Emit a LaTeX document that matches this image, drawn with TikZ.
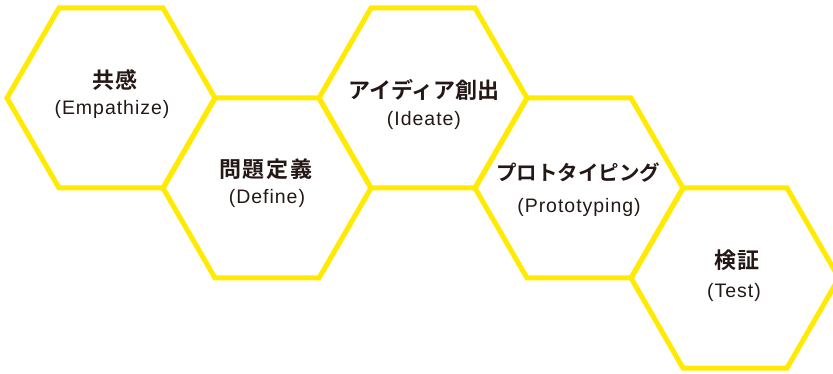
\documentclass[tikz,border=0pt]{standalone}
\usepackage{fontspec}
\setmainfont{Liberation Sans}
\newfontfamily\jpfont{Noto Sans CJK JP}[BoldFont={* Bold}]
\definecolor{hexyellow}{RGB}{255,234,0}
\definecolor{ink}{RGB}{35,24,21}
\tikzset{
  hexline/.style={draw=hexyellow, line width=5pt, line join=miter},
  title/.style={inner sep=0pt, text=ink, font=\jpfont\bfseries\fontsize{22}{22}\selectfont},
  narrowtitle/.style={inner sep=0pt, text=ink, font=\jpfont\bfseries\fontsize{20.5}{20.5}\selectfont},
  kanji/.style={title, font=\jpfont\bfseries\fontsize{22}{22}\selectfont\addfontfeature{LetterSpace=9}},
  sub/.style={inner sep=0pt, text=ink, font=\fontsize{19.5}{19.5}\selectfont\addfontfeature{LetterSpace=5}}
}
\newcommand{\hexat}[2]{%
  \draw[hexline] (#1+104,#2) -- (#1+52,#2+90) -- (#1-52,#2+90) -- (#1-104,#2)
    -- (#1-52,#2-90) -- (#1+52,#2-90) -- cycle;}
\begin{document}
\begin{tikzpicture}[x=1pt, y=-1pt]
\useasboundingbox (0,0) rectangle (833,374);
\clip (0,0) rectangle (833,374);
\hexat{111}{98}
\hexat{267}{188}
\hexat{423}{98}
\hexat{579}{188}
\hexat{735}{278}
\node[kanji] (t1) at (115,80) {共感};
\node[sub] (s1) at (112,109) {(Empathize)};
\node[kanji] (t2) at (266,169) {問題定義};
\node[sub] (s2) at (267,198) {(Define)};
\node[title] (t3) at (424,90) {アイディア創出};
\node[sub] (s3) at (424,120) {(Ideate)};
\node[narrowtitle] (t4) at (578,173) {プロトタイピング};
\node[sub] (s4) at (579,207) {(Prototyping)};
\node[kanji] (t5) at (737,260) {検証};
\node[sub] (s5) at (734,292) {(Test)};
\end{tikzpicture}
\end{document}
